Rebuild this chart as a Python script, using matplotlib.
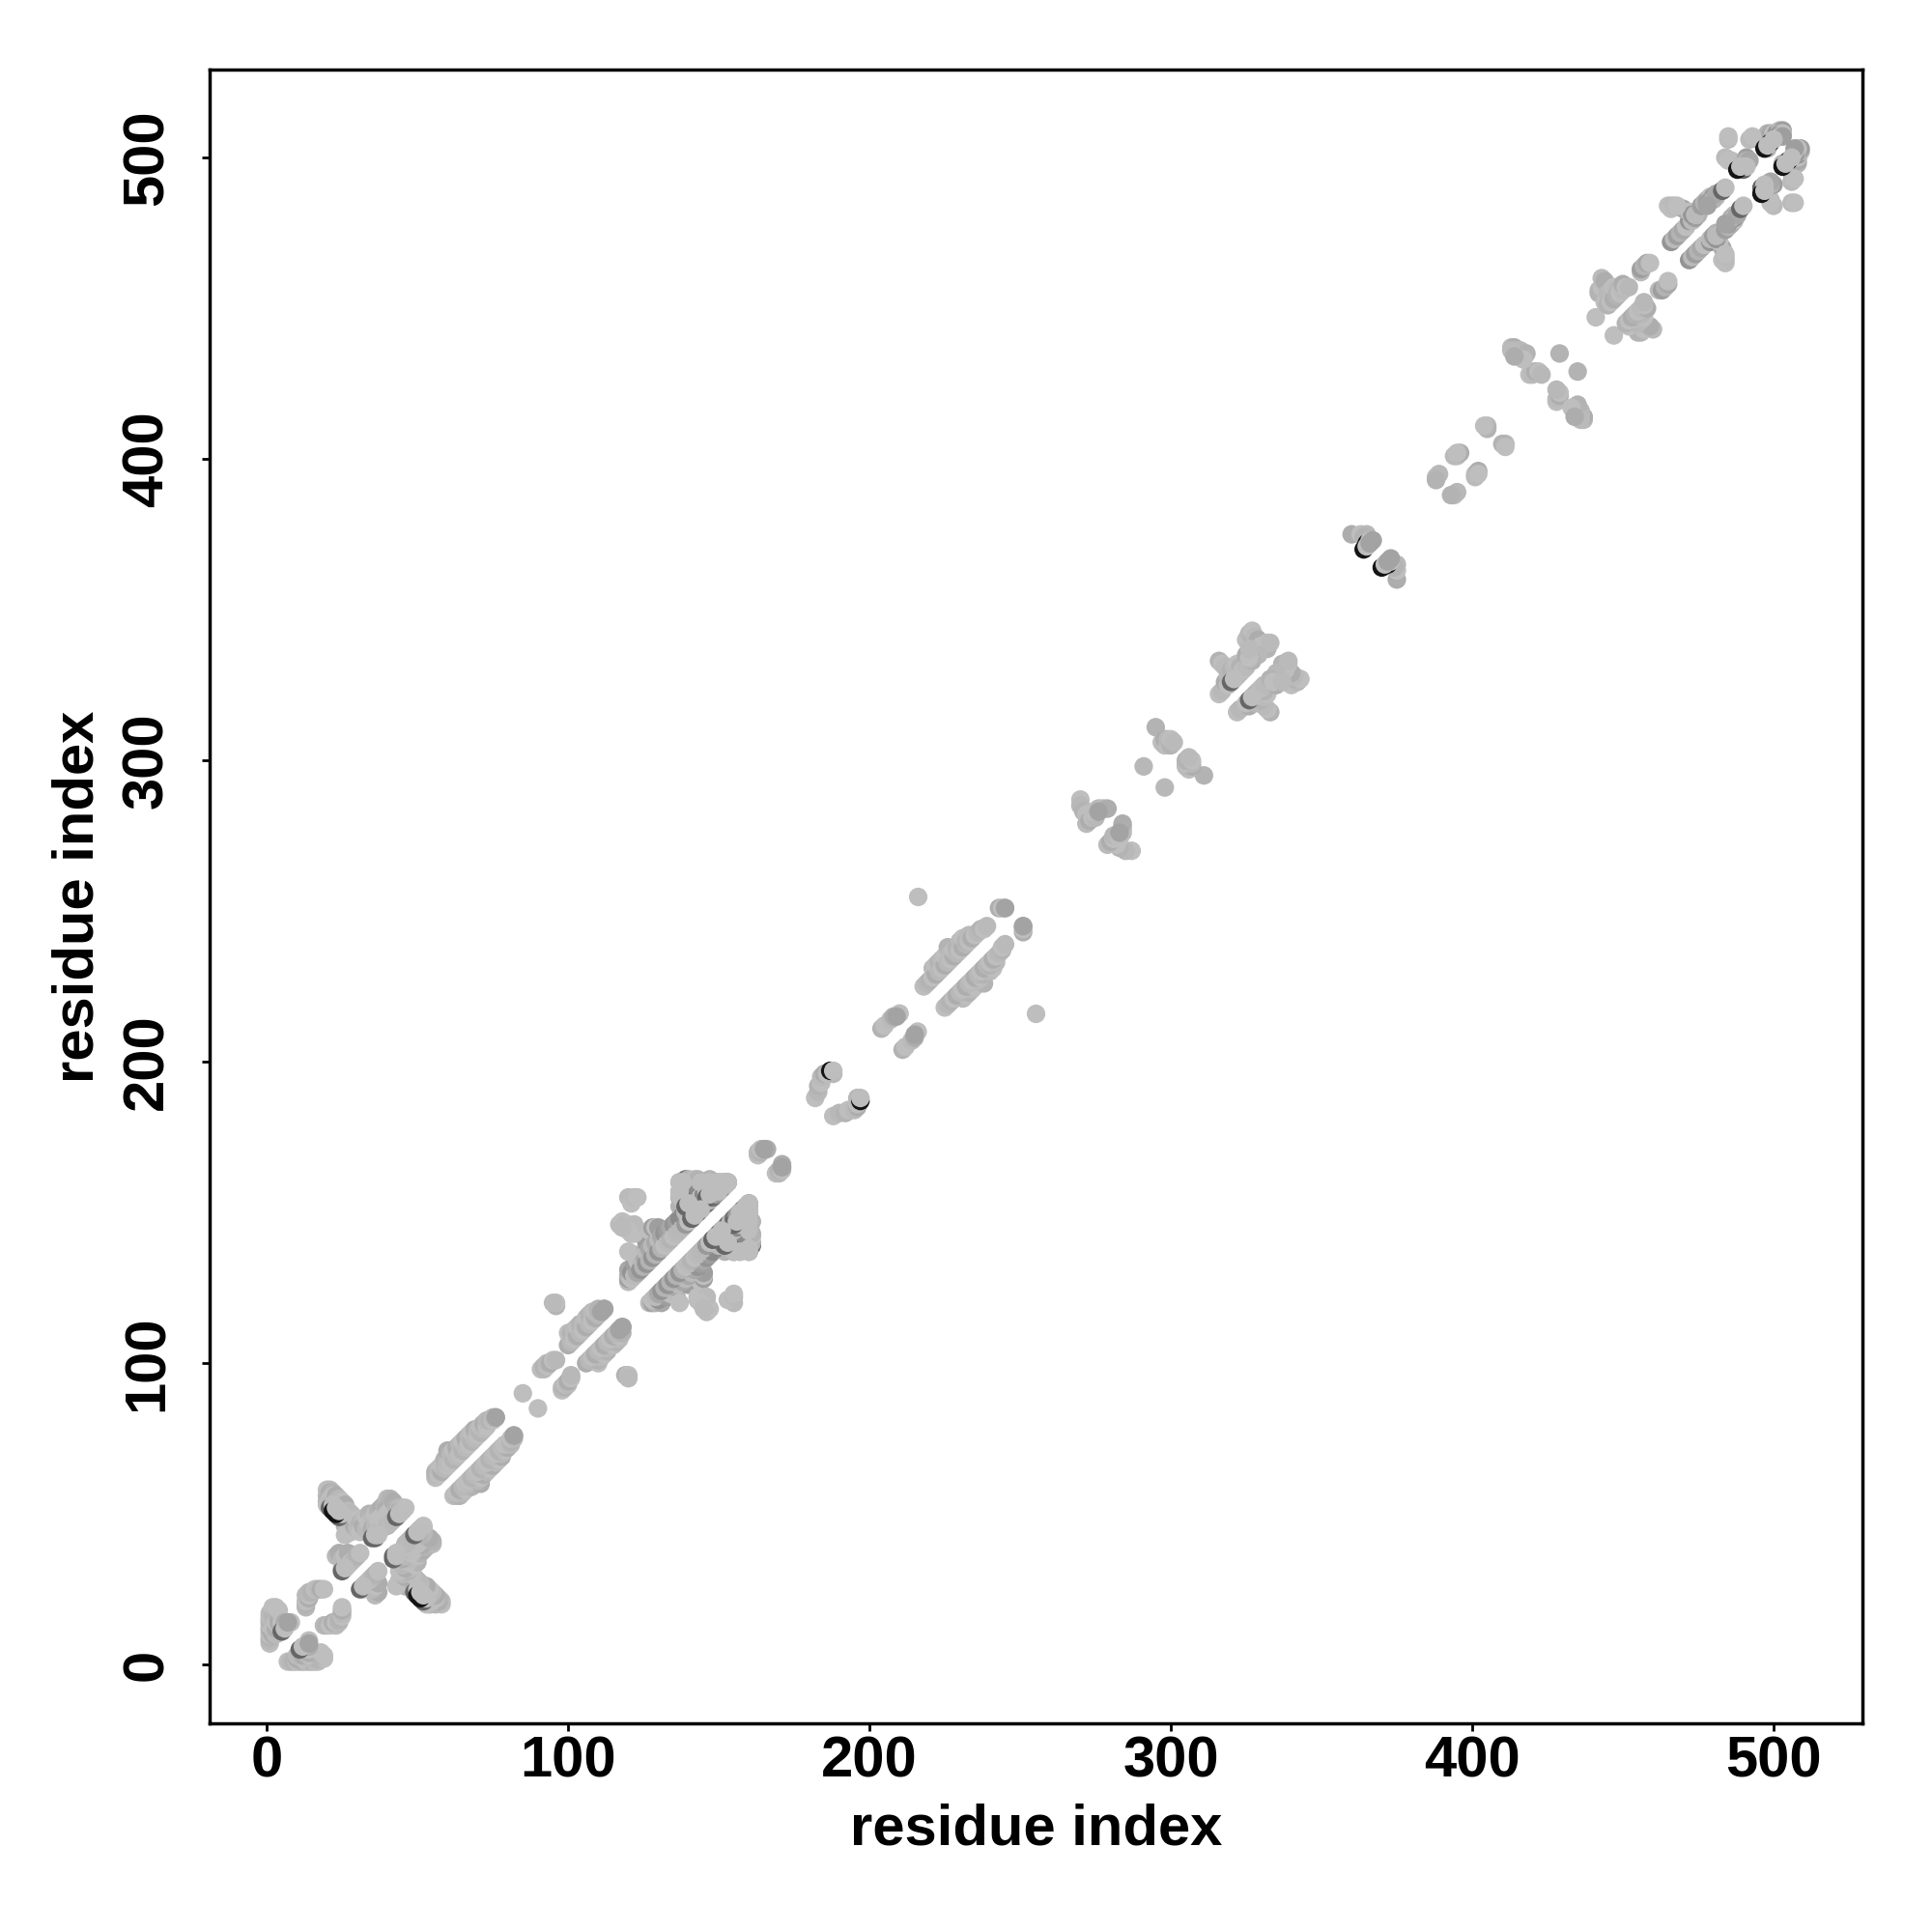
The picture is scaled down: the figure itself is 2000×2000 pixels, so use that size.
import numpy as np
import matplotlib
matplotlib.use('Agg')
from matplotlib import pyplot as plt

plt.rcParams['font.family'] = ['Liberation Sans', 'DejaVu Sans']

# contacts as (i, j), i < j, one list per stretch of the chain; the map is symmetric
nterm = [(1,7),(1,8),(1,9),(1,10),(1,11),(1,12),(1,13),(1,14),(1,15),(1,16),(1,17),(2,10),(2,12),(2,15),(2,17),(2,19),
         (3,10),(3,12),(3,14),(3,17),(3,18),(3,19),(4,13),(4,14),(4,18),(5,11),(5,13),(5,14),(6,13),(6,14),(8,14),
         (13,19),(13,20),(13,21),(13,23),(14,22),(14,23),(14,24),(15,24),(16,25),(17,25),(18,25),(19,25)]
cross = [(20,58),(20,56),(20,54),(20,53),(21,58),(21,57),(21,55),(21,53),(22,57),(22,56),(22,54),(23,56),(23,54),
         (24,55),(24,53),(25,54),(25,52),(26,53),(26,50),(26,48),(26,46),(26,43),(27,51),(27,48),(27,44),(28,50),
         (28,47),(28,44),(29,49),(29,46),(30,48),(30,45),(31,47),(31,44),(32,48),(32,46),(33,49),(33,45),(34,50),
         (34,47),(35,48),(35,45),(36,50),(36,46),(37,51),(37,48),(37,44),(38,52),(38,49),(38,45),(39,53),(39,47),
         (40,55),(40,52),(40,50),(40,46),(41,55),(41,51),(41,47),(42,54),(42,50),(42,48),(43,52),(43,49),(44,52),
         (44,51),(44,50),(45,52),(45,51),(46,52),
         (23,36),(24,37),(25,32),(25,35),(26,32),(26,36),(27,33),(27,37),(28,34),(29,35),(30,36),(31,37)]
helix_a = [(56,62),(56,63),(56,64),(57,63),(57,65),(58,64),(58,66),(59,65),(59,68),(60,66),(60,67),(60,71),(61,67),(61,70),
           (62,68),(62,71),(63,69),(63,72),(64,70),(64,73),(65,71),(65,74),(66,72),(66,75),(67,73),(67,76),(68,74),(68,77),
           (69,75),(69,78),(70,76),(70,78),(71,77),(71,79),(72,78),(72,80),(73,79),(73,81),(74,81),(75,81),(75,82),(76,82),(85,90)]
helix_b = [(91,98),(92,98),(92,99),(93,99),(93,100),(94,100),(95,101),(96,101),(96,119),(96,120),(95,120),(100,106),(100,110),
           (101,107),(101,110),(102,108),(102,111),(103,109),(103,112),(104,110),(104,113),(105,111),(105,113),(106,112),
           (106,115),(107,113),(107,116),(108,114),(108,117),(109,115),(109,117),(110,116),(110,118),(111,117),(112,118)]
core_outer = [(120,127),(120,128),(120,129),(120,131),(121,128),(121,130),(122,129),(122,133),
              (122,136),(123,130),(123,134),(124,131),(124,135),(124,143),(125,132),(125,136),(125,143),(126,133),(126,137),(126,140),(127,134),
              (127,138),(127,144),(128,135),(128,139),(128,145),(129,136),(129,140),(129,145),(130,137),(130,141),(130,145),
              (131,138),(131,142),(132,139),(132,143),(133,140),(133,144),(134,141),(134,145),(135,142),(135,146),(136,143),
              (136,147)]
core_far = [(120,137),(120,155),(121,153),(122,155),(123,155),(117,146),(118,147),(119,146),(120,146),(121,143),(122,143),(122,146),(120,144),(118,145)]
core_inner = [(137,144),(137,148),(137,152),(137,155),(137,157),(137,160),(138,145),(138,149),(138,153),(138,157),(138,160),
              (139,146),(139,150),(139,154),(139,158),(139,161),(140,147),(140,151),(140,155),(140,159),(140,161),(141,148),
              (141,152),(141,156),(141,160),(142,149),(142,153),(142,157),(142,161),(143,150),(143,154),(143,158),(143,161),
              (144,151),(144,155),(144,160),(145,152),(145,156),(145,160),(146,153),(146,157),(146,160),(147,154),(147,158),
              (147,161),(148,155),(148,159),(149,156),(149,160),(150,157),(150,160),(151,158),(151,160),(152,159),(152,160),(153,160)]
core_top = [(137,160),(137,157),(137,155),(138,160),(144,160),(147,160),(147,158),(153,160),(152,159),(150,157),(150,160),(148,159),(152,160)]
seg_d = [(163,169),(163,170),(164,170),(164,171),(165,171),(166,171),(182,188),(183,190),(183,192),(184,193),(184,195),
         (185,196),(186,196),(188,196),(204,211),(205,212),(207,214),(208,215),(210,216),(216,255)]
helix_c = [(218,225),(219,226),(220,227),(221,228),(221,231),(222,229),(222,232),(223,230),(223,233),(224,231),(224,234),
           (225,232),(225,235),(226,233),(226,238),(227,234),(227,236),(228,235),(228,237),(229,236),(229,238),(230,237),
           (230,240),(231,238),(231,241),(232,239),(232,240),(233,240),(233,242),(234,241),(235,242),(236,243),(237,244),
           (238,244),(239,245),(243,251),(244,251),(245,251)]
seg_f = [(270,287),(270,285),(271,283),(272,282),(272,279),(273,280),(274,281),(275,281),(276,284),(277,284),(278,284),
         (279,284),(274,283),(291,298),(295,311),(297,306),(298,305),(298,307),(299,305),(299,307),(300,305),(300,307),(301,306)]
seg_g = [(316,322),(317,323),(316,333),(317,332),(318,331),(318,326),(319,325),(319,328),(320,330),(321,327),(321,331),
         (322,328),(322,332),(323,329),(323,331),(324,330),(325,331),(325,335),(325,340),(326,342),(327,341),(327,343),
         (328,341),(329,340),(330,338),(331,337),(332,337),(332,339),(333,339),(327,336),(328,336),(329,335),(327,333),
         (326,334),(326,337),(360,375),(363,375),(365,375),(364,374)]
seg_h = [(388,394),(389,395),(388,393),(395,401),(394,401),(396,402),(395,402),(405,411),(405,410),(404,411),
         (413,437),(414,437),(415,436),(416,436),(418,435),(419,428),(420,428),(421,429),(422,429),(423,428),(429,435),
         (417,433),(413,436),(414,434),(441,447),(442,456),(442,455),(443,457),(443,460),(444,459),(444,452),(445,455),
         (445,451),(446,452),(446,456),(447,453),(447,457),(448,456),(448,454),(449,455),(450,456),(450,458),(451,457),(452,457)]
cterm = [(456,462),(456,463),(457,464),(458,465),(459,465),(466,472),(467,473),(468,474),(469,475),(470,476),(471,477),
         (472,479),(473,479),(474,480),(475,481),(470,483),(472,482),(473,481),
         (474,481),(476,484),(477,485),(478,486),(479,487),(480,487),(481,487),(478,485),(480,486),(481,488),
         (486,499),(489,497),(490,498),(491,500),(491,499),(492,499),(490,497),
         (495,506),(496,506),(497,505),(498,508),(499,508),(500,508),(501,508),(502,509),(503,509),
         (498,503),(502,508),(503,508),(501,507),(502,507),(503,507)]
cterm_far = [(465,484),(466,484),(466,483),(467,484),(468,484),(484,500),(485,499),(485,506),(485,507),(492,506),(493,507)]
# dark contacts, each with a light contact drawn just over it so only a crescent shows
black_shade = [(22,51),(23,50),(187,197),(364,370),(365,372),(488,496),(497,503),(499,505)]
black_cover = [(23,52),(24,51),(188,197),(365,371),(366,373),(489,497),(498,504),(500,506)]
soft_shade = [(21,52),(24,49),(35,42),(36,42),(43,49),(25,31),(5,11),(141,148),(139,152),(143,150),(146,155),(320,326),(490,496),(483,489)]
soft_cover = [(22,53),(25,50),(36,43),(37,43),(44,50),(26,32),(6,12),(142,149),(140,153),(144,151),(147,156),(321,327),(491,497),(484,490)]
mid_shade = [(7,14),(76,82),(111,117),(112,118),(165,171),(209,215),(245,251),(276,283),(367,373),(366,372),(478,484)]

tick_values = [0, 100, 200, 300, 400, 500]
light_cycle = [0.745, 0.72, 0.70, 0.745, 0.73, 0.68]
mixed_cycle = [0.73, 0.62, 0.70, 0.66, 0.745, 0.58]
deep_cycle = [0.72, 0.54, 0.70, 0.44, 0.745, 0.60]


def draw(pairs, grays):
    p = np.array(pairs)
    g = np.resize(grays, len(p))
    ax.scatter(p[:, 0], p[:, 1], s=48, c=np.c_[g, g, g], linewidths=0)
    ax.scatter(p[:, 1], p[:, 0], s=48, c=np.c_[g, g, g], linewidths=0)


fig = plt.figure(figsize=(10, 10), dpi=200)
ax = fig.add_axes([216.5/2000, 1-1784/2000, (1928-216.5)/2000, (1784-72)/2000])

for part in [nterm, cross, helix_a, helix_b, seg_f, helix_c, seg_h, seg_g]:
    draw(part, light_cycle)
draw(seg_d[:-1], light_cycle)
draw(seg_d[-1:], [0.745])
draw(core_outer, mixed_cycle)
draw(core_far, [0.745, 0.73])
draw(core_inner, deep_cycle)
draw(core_top, [0.74])
draw(cterm, mixed_cycle)
draw(cterm_far, [0.745, 0.73])
draw(soft_shade, [0.4])
draw(soft_cover, [0.74])
draw(black_shade, [0.08])
draw(black_cover, [0.74])
draw(mid_shade, [0.64])

ax.set_xlim(-19.1, 529.5)
ax.set_ylim(-19.5, 529.2)
ax.set_xticks(tick_values)
ax.set_yticks(tick_values)
ax.tick_params(length=3, width=1.0, labelsize=21.5)
ax.tick_params(axis='x', pad=1.5)
ax.tick_params(axis='y', pad=10)
for lab in ax.get_xticklabels() + ax.get_yticklabels():
    lab.set_fontweight('bold')
for lab in ax.get_yticklabels():
    lab.set_rotation(90)
    lab.set_va('center')
for s in ax.spines.values():
    s.set_linewidth(1.25)
ax.set_xlabel('residue index', fontsize=21.5, fontweight='bold', labelpad=5.5)
ax.set_ylabel('residue index', fontsize=21.5, fontweight='bold', labelpad=6)

fig.savefig('out.png', dpi=200)
